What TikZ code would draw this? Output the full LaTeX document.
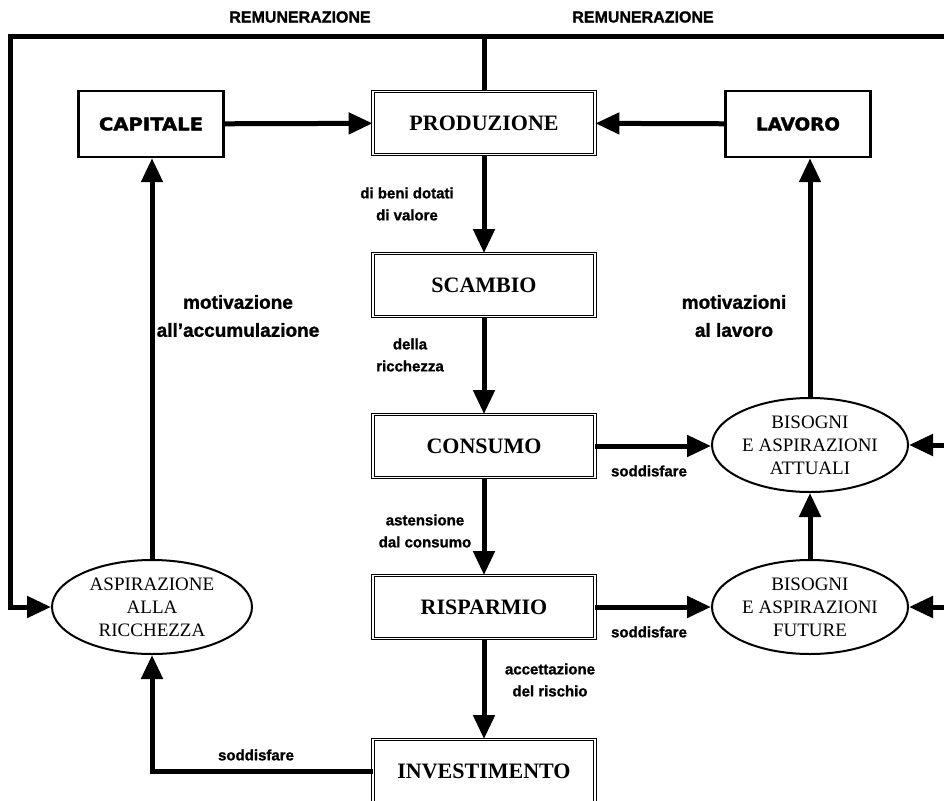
\documentclass[tikz,border=0pt]{standalone}
\usepackage{fontspec}
\usetikzlibrary{arrows.meta,shapes.geometric}
\setmainfont{Liberation Serif}
\setsansfont{Liberation Sans}
\newfontfamily\lblfont{Liberation Sans}[BoldFeatures={FakeBold=1.2}]
\newfontfamily\heavyfont{DejaVu Sans}[BoldFeatures={FakeBold=2}]
\begin{document}
\begin{tikzpicture}[x=1pt,y=-1pt,
  dbox/.style={draw,double,double distance=1.3pt,line width=0.9pt,minimum width=222pt,minimum height=63pt,inner sep=0pt,
    font=\fontsize{22}{26}\selectfont\bfseries},
  sbox/.style={draw,line width=2.4pt,minimum width=145pt,minimum height=66pt,inner sep=0pt},
  ell/.style={draw,ellipse,line width=2pt,minimum width=196pt,minimum height=94pt,inner sep=0pt,align=center,
    font=\fontsize{19}{23}\selectfont},
  conn/.style={line width=5pt,-{Triangle[length=24pt,width=21pt]}},
  plain/.style={line width=5pt},
  lbl/.style={font=\lblfont\bfseries\fontsize{15}{22}\selectfont,align=center,inner sep=0pt},
  biglbl/.style={font=\lblfont\bfseries\fontsize{19}{28}\selectfont,align=center,inner sep=0pt},
  toplbl/.style={font=\lblfont\bfseries\fontsize{16}{20}\selectfont,inner sep=0pt},
  heavy/.style={font=\heavyfont\bfseries\fontsize{17.5}{20}\selectfont}
]
\fill[white] (0,0) rectangle (944,800);
\useasboundingbox (0,0) rectangle (944,800);

% central chain
\node[dbox] (prod) at (484,123) {PRODUZIONE};
\node[dbox] (sca) at (484,285) {SCAMBIO};
\node[dbox] (con) at (484,446) {CONSUMO};
\node[dbox] (ris) at (484,607) {RISPARMIO};
\node[dbox] (inv) at (484,771) {INVESTIMENTO};

% side boxes
\node[sbox,heavy] (cap) at (151,124) {\scalebox{1.12}[1]{CAPITALE}};
\node[sbox,heavy] (lav) at (798,124) {\scalebox{1.05}[1]{LAVORO}};

% ellipses
\node[ell] (ba) at (810,445) {BISOGNI\\E ASPIRAZIONI\\ATTUALI};
\node[ell] (bf) at (810,607) {BISOGNI\\E ASPIRAZIONI\\FUTURE};
\node[ell,minimum width=200pt] (asp) at (152,607) {ASPIRAZIONE\\ALLA\\RICCHEZZA};

% top frame
\coordinate (tl) at (10,37);
\coordinate (tm) at (484,37);
\coordinate (tr) at (944,37);
\draw[plain] (prod.north) -- (tm);
\draw[conn] (tr) -- (tl) -- (tl |- asp.west) -- (asp.west);
\draw[conn] (ba.east -| tr) -- (ba.east);
\draw[conn] (bf.east -| tr) -- (bf.east);

% main arrows
\draw[conn] (cap) -- (prod);
\draw[conn] (lav) -- (prod);
\draw[conn] (prod) -- (sca);
\draw[conn] (sca) -- (con);
\draw[conn] (con) -- (ris);
\draw[conn] (ris) -- (inv);
\draw[conn] (con.east) -- (con.east -| ba.west);
\draw[conn] (ris.east) -- (bf.west);
\draw[conn] (bf) -- (ba);
\draw[conn] (ba.north) -- (ba.north |- lav.south);
\draw[conn] (asp.north) -- (asp.north |- cap.south);
\draw[conn] (inv.west) -- (inv.west -| asp.south) -- (asp.south);

% labels
\node[toplbl] (r1) at (300,17) {REMUNERAZIONE};
\node[toplbl] (r2) at (643,17) {REMUNERAZIONE};
\node[lbl] (l1) at (407,204) {di beni dotati\\di valore};
\node[lbl] (l2) at (410,355) {della\\ricchezza};
\node[lbl] (l3) at (425,531) {astensione\\dal consumo};
\node[lbl] (l4) at (550,680) {accettazione\\del rischio};
\node[lbl] (s1) at (649,471) {soddisfare};
\node[lbl] (s2) at (649,632) {soddisfare};
\node[lbl] (s3) at (256,755) {soddisfare};
\node[biglbl] (m1) at (238,316) {motivazione\\all’accumulazione};
\node[biglbl] (m2) at (734,316) {motivazioni\\al lavoro};
\end{tikzpicture}
\end{document}
